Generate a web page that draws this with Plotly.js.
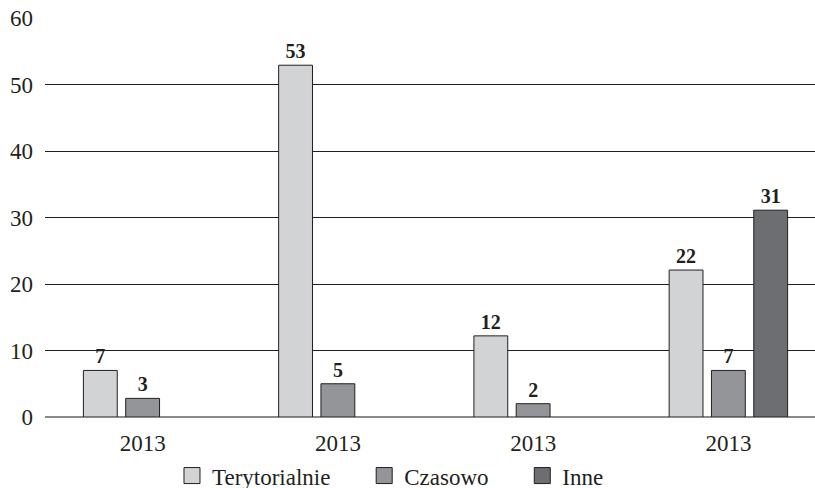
<!DOCTYPE html>
<html>
<head>
<meta charset="utf-8">
<script src="https://cdn.plot.ly/plotly-3.0.1.min.js"></script>
<style>
html,body{margin:0;padding:0;overflow:hidden;background:#fff;}
#chart{width:826px;height:500px;}
</style>
</head>
<body>
<div id="chart"></div>
<script>
// Data
var categories = ["A", "B", "C", "D"];
var tickLabels = ["2013", "2013", "2013", "2013"];
var seriesNames = ["Terytorialnie", "Czasowo", "Inne"];
var terytorialnie = [7, 52.9, 12.2, 22.1];
var czasowo = [2.8, 5, 2, 7];
var inne = [null, null, null, 31.1];
var terytorialnieLabels = ["7", "53", "12", "22"];
var czasowoLabels = ["3", "5", "2", "7"];
var inneLabels = ["", "", "", "31"];
var yTicks = [0, 10, 20, 30, 40, 50, 60];

var colors = ["#d2d3d5", "#939598", "#6d6e71"];
var font = "'Liberation Serif', 'Times New Roman', serif";
var ink = "#231f20";

function barTrace(name, values, labels, color) {
  return {
    type: "bar",
    name: name,
    x: categories,
    y: values,
    text: labels,
    textposition: "outside",
    textfont: {family: font, size: 20, color: ink},
    texttemplate: "<b>%{text}</b>",
    cliponaxis: false,
    showlegend: false,
    marker: {color: color, line: {color: ink, width: 1}},
    hoverinfo: "none"
  };
}

// legend entries (square swatches)
function legendTrace(name, color) {
  return {
    type: "scatter",
    mode: "markers",
    name: name + "\u00a0\u00a0\u00a0\u00a0\u00a0",
    x: [categories[0]],
    y: [null],
    marker: {symbol: "square", size: 16, color: color, line: {color: ink, width: 1}},
    showlegend: true,
    hoverinfo: "none"
  };
}

var data = [
  barTrace(seriesNames[0], terytorialnie, terytorialnieLabels, colors[0]),
  barTrace(seriesNames[1], czasowo, czasowoLabels, colors[1]),
  barTrace(seriesNames[2], inne, inneLabels, colors[2]),
  legendTrace(seriesNames[0], colors[0]),
  legendTrace(seriesNames[1], colors[1]),
  legendTrace(seriesNames[2], colors[2])
];

var layout = {
  width: 826,
  height: 500,
  margin: {l: 45, r: 0, t: 18, b: 83, pad: 0, autoexpand: false},
  paper_bgcolor: "#ffffff",
  plot_bgcolor: "#ffffff",
  barmode: "group",
  bargap: 0.35,
  bargroupgap: 0.2,
  showlegend: true,
  legend: {
    orientation: "h",
    x: 0.1626,
    xanchor: "left",
    y: -0.093,
    yanchor: "top",
    font: {family: font, size: 23, color: ink},
    bgcolor: "rgba(0,0,0,0)"
  },
  xaxis: {
    type: "category",
    tickvals: categories,
    ticktext: tickLabels,
    tickfont: {family: font, size: 23, color: ink},
    showgrid: false,
    zeroline: false,
    showline: false,
    ticks: "",
    ticklabelstandoff: 10,
    fixedrange: true
  },
  yaxis: {
    range: [0, 60],
    tickvals: yTicks,
    tickfont: {family: font, size: 23, color: ink},
    showgrid: true,
    gridcolor: ink,
    gridwidth: 1,
    zeroline: true,
    zerolinecolor: "#8a8a8a",
    zerolinewidth: 1.5,
    showline: false,
    ticks: "",
    ticklabelstandoff: 11,
    fixedrange: true
  },
  font: {family: font, color: ink}
};

Plotly.newPlot("chart", data, layout, {displayModeBar: false, staticPlot: true});
</script>
</body>
</html>
